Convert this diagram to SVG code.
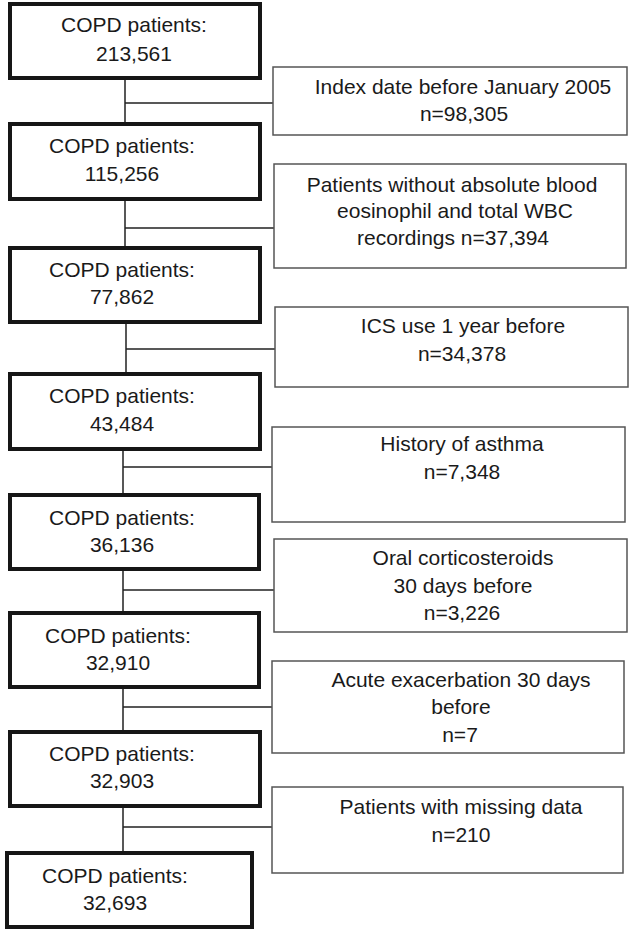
<svg xmlns="http://www.w3.org/2000/svg" width="630" height="930" viewBox="0 0 630 930">
<style>
.main{fill:#fff;stroke:#161616;stroke-width:4}
.side{fill:#fff;stroke:#555;stroke-width:1.5}
.ln{stroke:#222;stroke-width:1.5;fill:none}
text{font-family:"Liberation Sans",Arial,sans-serif;font-size:21px;fill:#1a1a1a;text-anchor:middle}
</style>
<rect width="630" height="930" fill="#fff"/>
<g id="connectors">
<path class="ln" d="M125 78V124M125 103H273"/>
<path class="ln" d="M125 199V247M125 228H274"/>
<path class="ln" d="M126 322V374M126 349H275"/>
<path class="ln" d="M123 449V495M123 467H272"/>
<path class="ln" d="M123 569V613M123 590H274"/>
<path class="ln" d="M123 687V732M123 707H272"/>
<path class="ln" d="M123 806V853M123 827H272"/>
</g>
<g id="n1"><rect class="main" x="10" y="4" width="250" height="74"/><text x="134" y="32">COPD patients:</text><text x="134" y="61">213,561</text></g>
<g id="s1"><rect class="side" x="273" y="67" width="354" height="68"/><text x="463" y="94">Index date before January 2005</text><text x="464" y="121">n=98,305</text></g>
<g id="n2"><rect class="main" x="10" y="124" width="250" height="75"/><text x="122" y="153">COPD patients:</text><text x="122" y="181">115,256</text></g>
<g id="s2"><rect class="side" x="274" y="164" width="352" height="104"/><text x="452" y="192">Patients without absolute blood</text><text x="455" y="218">eosinophil and total WBC</text><text x="453" y="245">recordings n=37,394</text></g>
<g id="n3"><rect class="main" x="10" y="248" width="250" height="74"/><text x="122" y="277">COPD patients:</text><text x="122" y="304">77,862</text></g>
<g id="s3"><rect class="side" x="275" y="307" width="353" height="80"/><text x="463" y="333">ICS use 1 year before</text><text x="462" y="361">n=34,378</text></g>
<g id="n4"><rect class="main" x="10" y="374" width="250" height="75"/><text x="122" y="403">COPD patients:</text><text x="122" y="431">43,484</text></g>
<g id="s4"><rect class="side" x="272" y="427" width="353" height="95"/><text x="462" y="451">History of asthma</text><text x="462" y="479">n=7,348</text></g>
<g id="n5"><rect class="main" x="10" y="495" width="249" height="74"/><text x="122" y="525">COPD patients:</text><text x="122" y="552">36,136</text></g>
<g id="s5"><rect class="side" x="274" y="539" width="353" height="93"/><text x="463" y="565">Oral corticosteroids</text><text x="463" y="593">30 days before</text><text x="462" y="620">n=3,226</text></g>
<g id="n6"><rect class="main" x="10" y="613" width="249" height="74"/><text x="118" y="643">COPD patients:</text><text x="118" y="670">32,910</text></g>
<g id="s6"><rect class="side" x="272" y="661" width="352" height="92"/><text x="461" y="687">Acute exacerbation 30 days</text><text x="461" y="714">before</text><text x="460" y="742">n=7</text></g>
<g id="n7"><rect class="main" x="10" y="732" width="250" height="74"/><text x="122" y="761">COPD patients:</text><text x="122" y="788">32,903</text></g>
<g id="s7"><rect class="side" x="272" y="787" width="351" height="86"/><text x="461" y="814">Patients with missing data</text><text x="461" y="842">n=210</text></g>
<g id="n8"><rect class="main" x="7" y="853" width="245" height="74"/><text x="115" y="883">COPD patients:</text><text x="115" y="910">32,693</text></g>
</svg>
